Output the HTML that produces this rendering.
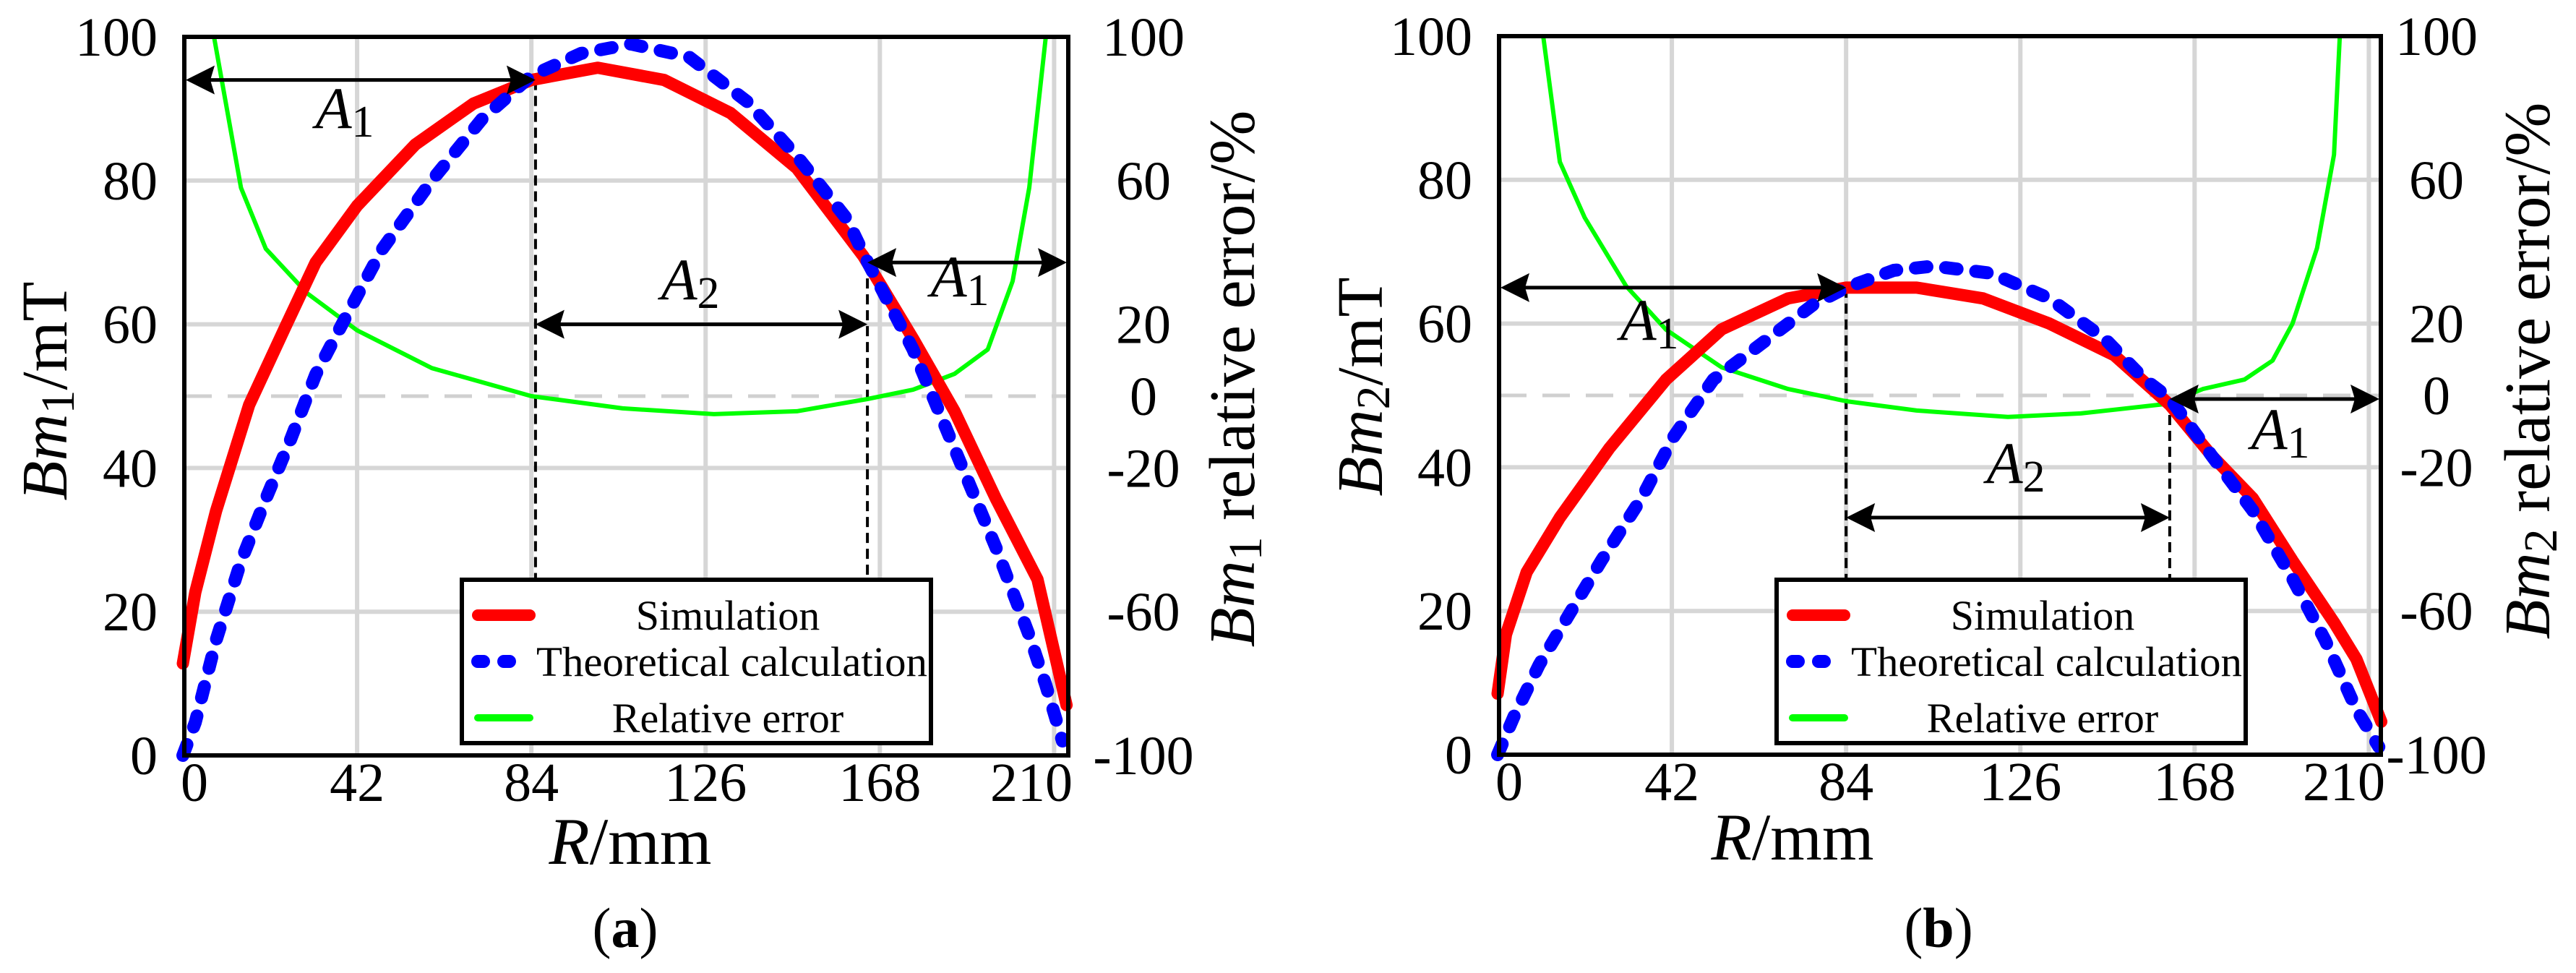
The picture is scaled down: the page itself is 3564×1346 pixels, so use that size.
<!DOCTYPE html>
<html><head><meta charset="utf-8">
<style>
html,body{margin:0;padding:0;background:#fff;}
svg{display:block;}
svg text{font-family:"Liberation Serif","Times New Roman","Times","Noto Serif CJK SC","DejaVu Serif",serif;}
</style></head>
<body>
<svg id="chart" width="3564" height="1346" viewBox="0 0 3564 1346" xmlns="http://www.w3.org/2000/svg">
<rect width="3564" height="1346" fill="#fff"/>
</svg>
<script>
// ---------- data ----------
const xTicks = [0, 42, 84, 126, 168, 210];
const xTickLabels = ["0", "42", "84", "126", "168", "210"];
const yTicks = [0, 20, 40, 60, 80, 100];
const yTickLabels = ["0", "20", "40", "60", "80", "100"];
const y2Ticks = [100, 60, 20, 0, -20, -60, -100];
const y2TickLabels = ["100", "60", "20", "0", "-20", "-60", "-100"];

const simAx = [0,3,8,16,25,32,42,56,70,84,100,116,132,148,164,176,186,196,206,213];
const simAy = [12.8,22.7,34,48.8,60,68.6,76.5,85,90.7,94,95.7,94,89.4,81.7,69.5,58,47.9,35.7,24.5,7];
const theoAx = [0,3,8,14,20,26,32,40,48,60,72,84,96,108,122,136,148,160,165,176,186,196,204,208,212];
const theoAy = [0,4.6,16,27,35.7,44,53,61.8,70.4,80,88.5,94.6,97.7,99,97.2,91,83.4,74.7,68.7,56.5,42.7,28.9,16.7,9.8,2];
const errAx = [7.5,14,20,30,42,60,84,106,128,148,165,176,186,194,200,204,208];
const errAy = [100,58,41,28.6,18.3,7.8,0,-3.4,-5,-4.2,-0.8,1.8,6.2,13,32,58,100];

const simBx = [0,2,7,15,27,40.6,54,70,84,101,117,133,148.6,162,172,182,191.6,201.6,207,213];
const simBy = [8.5,16.7,25.4,33,42.7,52.2,59.2,63.5,65,65,63.5,60,55.6,48.7,41.7,35.7,27,18.4,13.3,4.6];
const theoBx = [0,4,10,17,25,34.7,42.5,52,62,76,84,95.5,105,119,133,146.5,156,162,172,182,191.6,199.5,207,212.4];
const theoBy = [0,5.4,12.5,19.3,27,35.7,44.3,52.2,56.5,62.6,65,67.4,68,67,63.5,57.8,52.2,49.6,41.7,34,24.5,15.9,6.3,1.1];
const errBx = [11,15,21,31,40.6,54,70,84,101,123,140.6,161,170,180,186.8,191.6,197.5,201.6,203];
const errBy = [100,65,49.5,30.4,18.3,7.8,1.8,-1.6,-4.2,-6,-5,-2.4,1.8,4.4,9.7,20,41,67,100];

// ---------- layout ----------
const NS = "http://www.w3.org/2000/svg";
const FONT = '"Liberation Serif", "Times New Roman", Times, "Noto Serif CJK SC", "DejaVu Serif", serif';
const svg = document.getElementById('chart');
function el(tag, attrs, parent, text){
  const e = document.createElementNS(NS, tag);
  for (const k in attrs) e.setAttribute(k, attrs[k]);
  if (tag === 'text') { e.setAttribute('font-family', FONT); e.style.fontFamily = FONT; }
  if (text !== undefined) e.textContent = text;
  (parent||svg).appendChild(e);
  return e;
}
const panels = [
  {id:'a', L:255, R:1478, T:51, B:1045, x0:253, sim:[simAx,simAy], theo:[theoAx,theoAy], err:[errAx,errAy],
   sub:'1', y2c:1582, ytitleX:92, y2titleX:1735, ytitleY:541, y2titleY:524, xtitleX:872, xtitleY:1195, capX:865, capY:1310, cap:'a',
   a1y:94, a1x:85, a2y:60, a2x:[85,165], a3y:68.6, a3x:165, a1lab:[477,177], a2lab:[955,414], a3lab:[1328,410]},
  {id:'b', L:2074, R:3294, T:50, B:1044, x0:2072, sim:[simBx,simBy], theo:[theoBx,theoBy], err:[errBx,errBy],
   sub:'2', y2c:3371, ytitleX:1912, y2titleX:3527, ytitleY:535, y2titleY:513, xtitleX:2480, xtitleY:1189, capX:2682, capY:1310, cap:'b',
   a1y:65, a1x:84, a2y:33, a2x:[84,162], a3y:49.5, a3x:162, a1lab:[2282,470], a2lab:[2789,668], a3lab:[3155,621]}
];
const PXU = 5.74;

panels.forEach(p => {
  const g = el('g', {});
  
  
  const xs = v => p.x0 + v * PXU;
  const ys = v => p.B - (v / 100) * (p.B - p.T);
  const y2s = v => p.B - ((v + 100) / 200) * (p.B - p.T);

  xTicks.forEach((t, i) => {
    if (i === 0 || xs(t) >= p.R - 5) return;
    const l = el('line', {x1:xs(t), x2:xs(t), y1:p.T, y2:p.B, stroke:'#d6d6d6', 'stroke-width':6}, g);
    
    
  });
  yTicks.forEach((t, i) => {
    if (t === 0 || t === 100) return;
    const l = el('line', {x1:p.L, x2:p.R, y1:ys(t), y2:ys(t), stroke:'#d6d6d6', 'stroke-width':6}, g);
    
    
  });
  const zl = el('line', {x1:p.L, x2:p.R, y1:y2s(0), y2:y2s(0), stroke:'#d0d0d0', 'stroke-width':5, 'stroke-dasharray':'38 22'}, g);
  
  

  const legTop = 804;
  const d1 = el('line', {x1:xs(p.a1x), x2:xs(p.a1x), y1:ys(p.a1y), y2:legTop, stroke:'#000', 'stroke-width':4, 'stroke-dasharray':'14 8'}, g);
  
  
  const d2 = el('line', {x1:xs(p.a3x), x2:xs(p.a3x), y1:ys(p.a3y), y2:legTop, stroke:'#000', 'stroke-width':4, 'stroke-dasharray':'14 8'}, g);
  
  

  function pathOf(X, Y, yf){ return X.map((v,i)=>(i?'L':'M')+xs(v).toFixed(1)+','+yf(Y[i]).toFixed(1)).join(' '); }
  const errP = el('path', {d:pathOf(p.err[0], p.err[1], y2s), fill:'none', stroke:'#00ff00', 'stroke-width':6, 'stroke-linejoin':'round'}, g);
  
  
  const simP = el('path', {d:pathOf(p.sim[0], p.sim[1], ys), fill:'none', stroke:'#ff0000', 'stroke-width':17, 'stroke-linejoin':'round', 'stroke-linecap':'round'}, g);
  
  
  const thP = el('path', {d:pathOf(p.theo[0], p.theo[1], ys), fill:'none', stroke:'#0000ff', 'stroke-width':18, 'stroke-dasharray':'16 26', 'stroke-linecap':'round', 'stroke-linejoin':'round'}, g);
  
  

  function arrow(xa, xb, y, name){
    const ag = el('g', {}, g);
    
    
    el('line', {x1:xa+20, x2:xb-20, y1:y, y2:y, stroke:'#000', 'stroke-width':5}, ag);
    el('path', {d:`M${xa},${y} L${xa+40},${y-20} L${xa+34},${y} L${xa+40},${y+20} Z`, fill:'#000'}, ag);
    el('path', {d:`M${xb},${y} L${xb-40},${y-20} L${xb-34},${y} L${xb-40},${y+20} Z`, fill:'#000'}, ag);
  }
  arrow(p.L+2, xs(p.a1x), ys(p.a1y), 'a1-arrow-left');
  arrow(xs(p.a2x[0]), xs(p.a2x[1]), ys(p.a2y), 'a2-arrow');
  arrow(xs(p.a3x), p.R-2, ys(p.a3y), 'a1-arrow-right');

  function alabel(pos, s, name){
    const t = el('text', {x:pos[0], y:pos[1], 'font-size':82, 'text-anchor':'middle'}, g);
    
    
    el('tspan', {'font-style':'italic'}, t, 'A');
    el('tspan', {'font-size':62, dy:12}, t, s);
  }
  alabel(p.a1lab, '1', 'a1-label-left');
  alabel(p.a2lab, '2', 'a2-label');
  alabel(p.a3lab, '1', 'a1-label-right');

  const fr = el('rect', {x:p.L, y:p.T, width:p.R-p.L, height:p.B-p.T, fill:'none', stroke:'#000', 'stroke-width':6}, g);
  
  

  xTicks.forEach((t, i) => {
    let x = xs(t), anchor = 'middle';
    if (i === 0) { x = p.L + 14; }
    if (i === xTicks.length - 1) { x = p.R + 6; anchor = 'end'; }
    const tl = el('text', {x:x, y:p.B + 63, 'font-size':76, 'text-anchor':anchor}, g, xTickLabels[i]);
    
    
  });
  yTicks.forEach((t, i) => {
    const tl = el('text', {x:p.L - 37, y:ys(t) + 26, 'font-size':76, 'text-anchor':'end'}, g, yTickLabels[i]);
    
    
  });
  y2Ticks.forEach((t, i) => {
    const tl = el('text', {x:p.y2c, y:y2s(t) + 26, 'font-size':76, 'text-anchor':'middle'}, g, y2TickLabels[i]);
    
    
  });

  const yt = el('text', {x:0, y:0, 'font-size':90, 'text-anchor':'middle', transform:`translate(${p.ytitleX},${p.ytitleY}) rotate(-90)`}, g);
  
  
  el('tspan', {'font-style':'italic'}, yt, 'Bm');
  el('tspan', {'font-size':66, dy:10}, yt, p.sub);
  el('tspan', {dy:-10}, yt, '/mT');

  const y2t = el('text', {x:0, y:0, 'font-size':90, 'text-anchor':'middle', transform:`translate(${p.y2titleX},${p.y2titleY}) rotate(-90)`}, g);
  
  
  el('tspan', {'font-style':'italic'}, y2t, 'Bm');
  el('tspan', {'font-size':66, dy:10}, y2t, p.sub);
  el('tspan', {dy:-10}, y2t, ' relative error/%');

  const xt = el('text', {x:p.xtitleX, y:p.xtitleY, 'font-size':92, 'text-anchor':'middle'}, g);
  
  
  el('tspan', {'font-style':'italic'}, xt, 'R');
  el('tspan', {}, xt, '/mm');

  const cp = el('text', {x:p.capX, y:p.capY, 'font-size':78, 'text-anchor':'middle'}, g);
  
  
  el('tspan', {}, cp, '(');
  el('tspan', {'font-weight':'bold'}, cp, p.cap);
  el('tspan', {}, cp, ')');

  const lx = p.id === 'a' ? 639 : 2458;
  const lw = 649;
  const lg = el('g', {}, g);
  
  
  el('rect', {x:lx, y:802, width:lw, height:226, fill:'#fff', stroke:'#000', 'stroke-width':6}, lg);
  const entries = [
    {y:851, name:'legend-simulation', label:'Simulation', stroke:'#ff0000', w:16, dash:null},
    {y:915, name:'legend-theoretical', label:'Theoretical calculation', stroke:'#0000ff', w:18, dash:'8 28'},
    {y:993, name:'legend-relative-error', label:'Relative error', stroke:'#00ff00', w:10, dash:null}
  ];
  entries.forEach((e, i) => {
    const eg = el('g', {}, lg);
    
    
    const attrs = {x1:lx+22, x2:lx+94, y1:e.y, y2:e.y, stroke:e.stroke, 'stroke-width':e.w, 'stroke-linecap':'round'};
    if (e.dash) attrs['stroke-dasharray'] = e.dash;
    el('line', attrs, eg);
    const tattrs = {x:lx+368, y:e.y+20, 'font-size':58, 'text-anchor':'middle'};
    if (i === 1) { tattrs.x = lx + 103; tattrs['text-anchor'] = 'start'; tattrs.textLength = 541; tattrs.lengthAdjust = 'spacingAndGlyphs'; }
    el('text', tattrs, eg, e.label);
  });
});
</script>
</body></html>
